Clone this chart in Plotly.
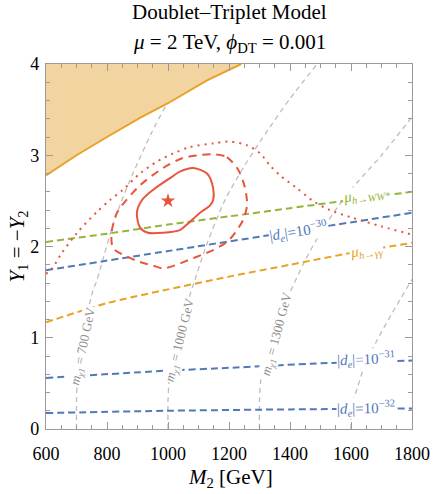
import plotly.graph_objects as go

# ---------------- data ----------------
x_range = [600, 1800]
y_range = [0, 4]
x_ticks = [600, 800, 1000, 1200, 1400, 1600, 1800]
y_ticks = [0, 1, 2, 3, 4]

# excluded region boundary (orange)
bound_x = [600, 700, 800, 908, 1000, 1128, 1240]
bound_y = [2.78, 3.00, 3.20, 3.41, 3.57, 3.82, 4.00]

# m_chi1 contours (grey dashed)
m700_x = [700, 700, 702, 710, 722, 738, 754, 767, 790, 816, 849, 885, 948, 997]
m700_y = [0, 0.3, 0.5, 0.8, 1.05, 1.3, 1.52, 1.63, 1.9, 2.2, 2.51, 2.8, 3.26, 3.57]
m1000_x = [1000, 1000, 1003, 1015, 1035, 1058, 1080, 1130, 1187, 1250, 1328, 1400, 1489]
m1000_y = [0, 0.3, 0.5, 0.8, 1.1, 1.33, 1.55, 2.05, 2.51, 2.88, 3.28, 3.62, 4.0]
m1300_x = [1300, 1300, 1303, 1320, 1350, 1400, 1450, 1500, 1560, 1620, 1700, 1800]
m1300_y = [0, 0.3, 0.5, 0.85, 1.15, 1.5, 1.85, 2.15, 2.45, 2.7, 3.0, 3.42]
m1600_x = [1600, 1600, 1605, 1619, 1645, 1685, 1735, 1800]
m1600_y = [0, 0.2, 0.3, 0.43, 0.7, 0.97, 1.27, 1.64]

# signal strengths / EDM contours
ww_x = [600, 800, 1000, 1200, 1400, 1600, 1800]
ww_y = [2.05, 2.14, 2.24, 2.33, 2.42, 2.51, 2.60]
gg_x = [600, 800, 1000, 1200, 1400, 1600, 1800]
gg_y = [1.17, 1.38, 1.53, 1.67, 1.80, 1.93, 2.04]
de30_x = [600, 1000, 1400, 1800]
de30_y = [1.74, 1.95, 2.16, 2.37]
de31_x = [600, 1000, 1200, 1500, 1800]
de31_y = [0.56, 0.64, 0.67, 0.72, 0.75]
de32_x = [600, 1000, 1400, 1800]
de32_y = [0.175, 0.20, 0.215, 0.225]

# fit contours (red)
c1_x = [1082, 1128, 1148, 1148, 1138, 1105, 1062, 1039, 984, 934, 908, 898, 915, 951, 1007, 1039, 1082]
c1_y = [2.86, 2.80, 2.64, 2.51, 2.45, 2.37, 2.24, 2.18, 2.15, 2.15, 2.21, 2.37, 2.51, 2.62, 2.75, 2.82, 2.86]
c2_x = [1148, 1193, 1230, 1252, 1259, 1246, 1220, 1193, 1148, 1111, 1066, 1029, 984, 951, 908,
        865, 820, 815, 830, 849, 908, 984, 1049, 1100, 1148]
c2_y = [3.01, 2.98, 2.84, 2.65, 2.45, 2.29, 2.15, 2.05, 1.96, 1.91, 1.85, 1.80, 1.76, 1.79, 1.83,
        1.89, 1.98, 2.15, 2.35, 2.45, 2.67, 2.86, 2.97, 3.00, 3.01]
c3_x = [600, 620, 652, 702, 767, 810, 852, 908, 964, 1017, 1072, 1148, 1203, 1259, 1302, 1334,
        1367, 1422, 1475, 1530, 1600, 1700, 1800]
c3_y = [1.70, 1.76, 1.93, 2.15, 2.38, 2.51, 2.62, 2.80, 2.93, 3.02, 3.09, 3.13, 3.15, 3.11, 3.02, 2.89,
        2.78, 2.64, 2.50, 2.40, 2.32, 2.22, 2.13]
best_x = [1000]
best_y = [2.5]

# ---------------- styling ----------------
SERIF = "Liberation Serif"
RED = "#E8553C"
GREEN = "#93B53A"
BLUE = "#5179B6"
ORANGE = "#E9A126"
GREY = "#BDBDBD"
GREY_TXT = "#8E8E8E"

fig = go.Figure()

# excluded region
fig.add_trace(go.Scatter(
    x=bound_x + [x_range[0]], y=bound_y + [y_range[1]],
    fill="toself", fillcolor="#F2D4A0", line=dict(width=0), mode="lines",
    hoverinfo="skip"))
fig.add_trace(go.Scatter(x=bound_x, y=bound_y, mode="lines",
                         line=dict(color=ORANGE, width=2)))

for xs, ys in [(m700_x, m700_y), (m1000_x, m1000_y), (m1300_x, m1300_y), (m1600_x, m1600_y)]:
    fig.add_trace(go.Scatter(x=xs, y=ys, mode="lines",
                             line=dict(color=GREY, width=1.3, dash="5px,4px",
                                       shape="spline", smoothing=0.8)))

for xs, ys, col in [(ww_x, ww_y, GREEN), (gg_x, gg_y, ORANGE), (de30_x, de30_y, BLUE),
                    (de31_x, de31_y, BLUE), (de32_x, de32_y, BLUE)]:
    fig.add_trace(go.Scatter(x=xs, y=ys, mode="lines",
                             line=dict(color=col, width=2, dash="7px,4px",
                                       shape="spline", smoothing=0.6)))

fig.add_trace(go.Scatter(x=c3_x, y=c3_y, mode="lines",
                         line=dict(color=RED, width=2, dash="2px,5px", shape="spline", smoothing=0.8)))
fig.add_trace(go.Scatter(x=c2_x, y=c2_y, mode="lines",
                         line=dict(color=RED, width=2, dash="8px,6px", shape="spline", smoothing=0.8)))
fig.add_trace(go.Scatter(x=c1_x, y=c1_y, mode="lines",
                         line=dict(color=RED, width=2, shape="spline", smoothing=0.8)))
fig.add_trace(go.Scatter(x=best_x, y=best_y, mode="markers",
                         marker=dict(symbol="star", size=11, color=RED, line=dict(width=0))))

ann = []
def lab(x, y, text, color, angle, size=15):
    ann.append(dict(x=x, y=y, xref="x", yref="y", text=text, showarrow=False,
                    textangle=angle, bgcolor="white", borderpad=0,
                    font=dict(family=SERIF, size=size, color=color)))

lab(1652, 2.56, "<i>μ<sub>h→WW*</sub></i>", GREEN, -8)
lab(1426, 2.17, "|<i>d<sub>e</sub></i>|=10<sup>−30</sup>", BLUE, -9)
lab(1652, 1.95, "<i>μ<sub>h→γγ</sub></i>", ORANGE, -8)
lab(1649, 0.765, "|<i>d<sub>e</sub></i>|=10<sup>−31</sup>", BLUE, -2)
lab(1649, 0.225, "|<i>d<sub>e</sub></i>|=10<sup>−32</sup>", BLUE, -1)
lab(725, 0.91, "<i>m<sub>χ1</sub></i> = 700 GeV", GREY_TXT, -78, 13)
lab(1039, 0.975, "<i>m<sub>χ1</sub></i> = 1000 GeV", GREY_TXT, -76, 13)
lab(1357, 1.04, "<i>m<sub>χ1</sub></i> = 1300 GeV", GREY_TXT, -75, 13)

# titles
def ptext(x, y, text, angle=0):
    ann.append(dict(x=x, y=y, xref="paper", yref="paper", showarrow=False, text=text,
                    xanchor="center", yanchor="middle", textangle=angle,
                    font=dict(family=SERIF, size=21, color="black")))

ptext(0.5, 1.142, "Doublet–Triplet Model")
ptext(0.5, 1.058, "<i>μ</i> = 2 TeV, <i>ϕ</i><sub>DT</sub> = 0.001")
ptext(0.505, -0.134, "<i>M</i><sub>2</sub> [GeV]")
ptext(-0.079, 0.5, "<i>Y</i><sub>1</sub> = −<i>Y</i><sub>2</sub>", -90)

axis_common = dict(showgrid=False, zeroline=False, ticks="inside", ticklen=7, tickwidth=1,
                   tickcolor="#9A9A9A", showline=True, linecolor="#9A9A9A", linewidth=1.2,
                   mirror="allticks", automargin=False,
                   tickfont=dict(family=SERIF, size=18, color="black"))

fig.update_layout(
    width=436, height=494,
    margin=dict(l=46, r=24, t=64, b=65, autoexpand=False),
    paper_bgcolor="white", plot_bgcolor="white",
    showlegend=False,
    annotations=ann,
    xaxis=dict(range=x_range, tickvals=x_ticks, ticklabelstandoff=8,
               minor=dict(dtick=50, ticks="inside", ticklen=4, tickcolor="#9A9A9A", showgrid=False),
               **axis_common),
    yaxis=dict(range=y_range, tickvals=y_ticks, ticklabelstandoff=2,
               minor=dict(dtick=0.2, ticks="inside", ticklen=4, tickcolor="#9A9A9A", showgrid=False),
               **axis_common),
)

fig.write_html("out.html", config={"displayModeBar": False},
               post_script="document.body.style.margin='0';document.body.style.overflow='hidden';")
